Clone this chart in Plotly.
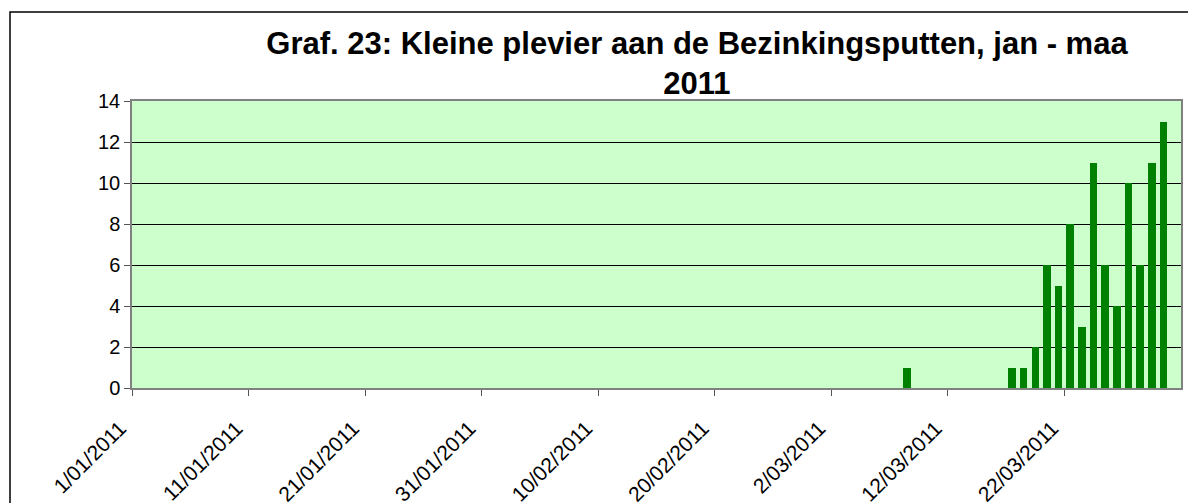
import plotly.graph_objects as go

# counts of Kleine plevier per day (only days with birds)
dates = ['2011-03-08', '2011-03-17', '2011-03-18', '2011-03-19', '2011-03-20',
         '2011-03-21', '2011-03-22', '2011-03-23', '2011-03-24', '2011-03-25',
         '2011-03-26', '2011-03-27', '2011-03-28', '2011-03-29', '2011-03-30']
counts = [1, 1, 1, 2, 6, 5, 8, 3, 11, 6, 4, 10, 6, 11, 13]

tick_dates = ['2011-01-01', '2011-01-11', '2011-01-21', '2011-01-31', '2011-02-10',
              '2011-02-20', '2011-03-02', '2011-03-12', '2011-03-22']
tick_labels = ['1/01/2011', '11/01/2011', '21/01/2011', '31/01/2011', '10/02/2011',
               '20/02/2011', '2/03/2011', '12/03/2011', '22/03/2011']

DAY = 86400000
OFF = 8  # page body margin
W, H = 1196 - OFF, 503 - OFF
L, R, T, B = 132 - OFF, 15, 101 - OFF, 115
pw = W - L - R
ph = H - T - B

fig = go.Figure()
fig.add_trace(go.Bar(
    x=dates, y=counts,
    xperiod=DAY, xperiodalignment='middle',
    width=0.65 * DAY,
    marker=dict(color='#008000', line=dict(width=0)),
))

font = 'Arial, Liberation Sans, sans-serif'
fig.update_layout(
    width=W, height=H,
    margin=dict(l=L, r=R, t=T, b=B, autoexpand=False),
    paper_bgcolor='white',
    plot_bgcolor='#CCFFCC',
    showlegend=False,
    bargap=0,
    title=dict(
        text='<b>Graf. 23: Kleine plevier aan de Bezinkingsputten, jan - maa<br>2011</b>',
        font=dict(family=font, size=31, color='black'),
        x=(697 - OFF - L) / pw, xref='paper', xanchor='center',
        y=1 - 46 / H, yref='container', yanchor='top',
    ),
    font=dict(family=font, size=20, color='black'),
)
fig.update_xaxes(
    type='date', automargin=False,
    range=['2011-01-01', '2011-04-01'],
    tickvals=tick_dates, ticktext=tick_labels,
    tickangle=-45,
    ticklabelshift=-12, ticklabelstandoff=12,
    ticks='outside', ticklen=6, tickcolor='#555555', tickwidth=1,
    showgrid=False, zeroline=False,
    showline=True, linecolor='#808080', linewidth=1.5, mirror=True,
    tickfont=dict(family=font, size=21, color='black'),
)
fig.update_yaxes(
    range=[0, 14], dtick=2, automargin=False,
    ticks='outside', ticklen=6, tickcolor='#555555', tickwidth=1,
    showgrid=True, gridcolor='#000000', gridwidth=1,
    zeroline=False,
    showline=True, linecolor='#808080', linewidth=1.5, mirror=True,
    tickfont=dict(family=font, size=20, color='black'),
)

# outer chart border (runs off the right and bottom of the picture)
fig.add_shape(
    type='rect', xref='paper', yref='paper',
    x0=(10 - OFF - L) / pw, x1=(W + 10 - L) / pw,
    y0=-(B + 20) / ph, y1=(H - B - (12 - OFF)) / ph,
    line=dict(color='#000000', width=1.5), fillcolor='rgba(0,0,0,0)',
    layer='below',
)

fig.write_html('out.html')
